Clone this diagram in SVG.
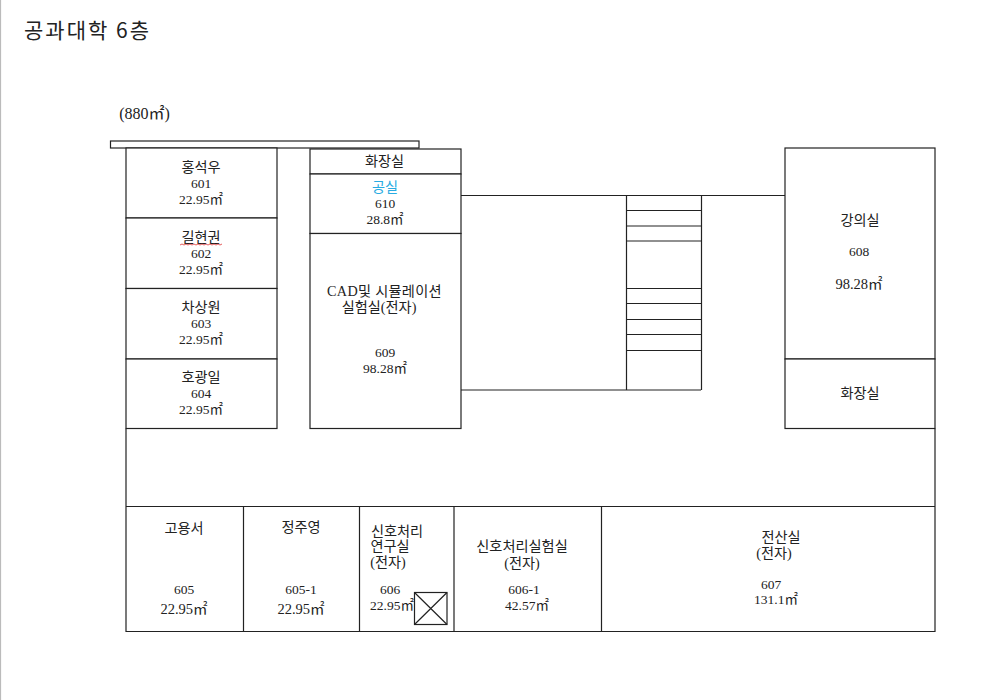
<svg xmlns="http://www.w3.org/2000/svg" width="1000" height="700" viewBox="0 0 1000 700">
<style>
text{font-family:"Liberation Serif","Noto Sans CJK KR",serif;font-size:13.5px;fill:#222;text-anchor:middle}
.k{font-size:14.2px}
.s{font-size:14.5px}
.room{fill:#fff;stroke:#222;stroke-width:1.2}
.ln{fill:none;stroke:#222;stroke-width:1.2}
</style>
<rect width="1000" height="700" fill="#fff"/>
<line x1="0.5" y1="0" x2="0.5" y2="700" stroke="#bbb" stroke-width="1.2"/>
<text x="24" y="38" style="font-family:'Noto Sans CJK KR','Noto Sans',sans-serif;font-size:21px;letter-spacing:2px;text-anchor:start">공과대학 6층</text>
<text x="144.500" y="119" style="font-size:16px">(880㎡)</text>
<g id="connectors">
<path class="ln" d="M126 428.500V631.500H935V428.500M126 506.500H935M461 195.500H785M461 390H701M626.500 195.500V390M701.500 195.500V390"/>
<path class="ln" d="M626.500 210.500H701.500M626.500 226H701.500M626.500 241H701.500M626.500 288.500H701.500M626.500 303.500H701.500M626.500 319.500H701.500M626.500 334.500H701.500M626.500 350.500H701.500"/>
<path class="ln" d="M243.500 506.500V631.500M359.500 506.500V631.500M454 506.500V631.500M601.500 506.500V631.500"/>
<rect class="room" x="110.500" y="141" width="308.500" height="7"/>
</g>
<g id="r601"><rect class="room" x="126" y="148" width="151" height="70"/>
<text class="k" x="201" y="172">홍석우</text><text x="201" y="188">601</text><text x="201" y="204">22.95㎡</text></g>
<g id="r602"><rect class="room" x="126" y="218" width="151" height="70.500"/>
<text class="k" x="201" y="242">길현권</text><path d="M180 245l2-1 2 1 2-1 2 1 2-1 2 1 2-1 2 1 2-1 2 1 2-1 2 1 2-1 2 1 2-1 2 1 2-1 2 1 2-1 2 1 2-1" fill="none" stroke="#d33" stroke-width="0.8"/><text x="201" y="258">602</text><text x="201" y="274">22.95㎡</text></g>
<g id="r603"><rect class="room" x="126" y="288.500" width="151" height="70.500"/>
<text class="k" x="201" y="312">차상원</text><text x="201" y="328">603</text><text x="201" y="344">22.95㎡</text></g>
<g id="r604"><rect class="room" x="126" y="359" width="151" height="69.500"/>
<text class="k" x="201" y="382">호광일</text><text x="201" y="398">604</text><text x="201" y="414">22.95㎡</text></g>
<g id="r-wc1"><rect class="room" x="310" y="149" width="151" height="25"/>
<text class="k" x="384.500" y="166">화장실</text></g>
<g id="r610"><rect class="room" x="310" y="174" width="151" height="59.500"/>
<text class="k" x="385" y="192" style="fill:#29abe2">공실</text><text x="385" y="208">610</text><text x="385" y="224">28.8㎡</text></g>
<g id="r609"><rect class="room" x="310" y="233.500" width="151" height="195"/>
<text class="k" x="384.500" y="296" style="letter-spacing:.3px">CAD및 시뮬레이션</text><text class="k" x="379" y="312">실험실(전자)</text><text x="385" y="357">609</text><text x="385" y="373">98.28㎡</text></g>
<g id="r608"><rect class="room" x="785" y="148" width="150" height="211"/>
<text class="k" x="860" y="225">강의실</text><text x="859" y="256">608</text><text x="859" y="289" class="s">98.28㎡</text></g>
<g id="r-wc2"><rect class="room" x="785" y="359" width="150" height="69.500"/>
<text class="k" x="860" y="398">화장실</text></g>
<g id="r605"><text class="k" x="184" y="533">고용서</text><text x="184" y="594">605</text><text x="184" y="614" class="s">22.95㎡</text></g>
<g id="r605-1"><text class="k" x="301" y="532">정주영</text><text x="301" y="594">605-1</text><text x="301" y="614" class="s">22.95㎡</text></g>
<g id="r606"><text class="k" x="397" y="536">신호처리</text><text class="k" x="390" y="551">연구실</text><text class="k" x="388" y="567">(전자)</text><text x="390" y="594">606</text><text x="392" y="610">22.95㎡</text>
<rect class="room" x="414.500" y="592.500" width="32.500" height="32"/><path class="ln" d="M414.500 592.500L447 624.500M447 592.500L414.500 624.500"/></g>
<g id="r606-1"><text class="k" x="522" y="551">신호처리실험실</text><text class="k" x="522" y="568">(전자)</text><text x="524" y="594">606-1</text><text x="527" y="610">42.57㎡</text></g>
<g id="r607"><text class="k" x="781" y="542">전산실</text><text class="k" x="774" y="558">(전자)</text><text x="771" y="589">607</text><text x="776" y="604">131.1㎡</text></g>
</svg>
